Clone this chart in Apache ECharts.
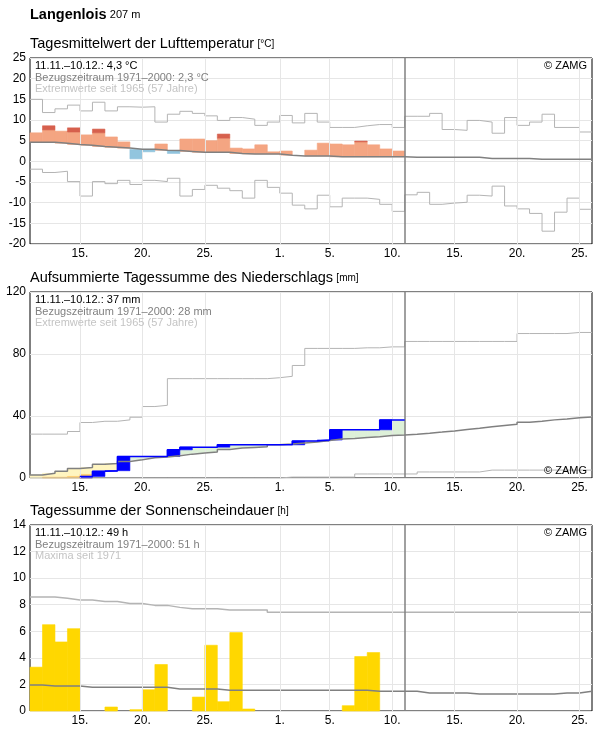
<!DOCTYPE html>
<html>
<head>
<meta charset="utf-8">
<script src="https://cdn.jsdelivr.net/npm/echarts@6/dist/echarts.min.js"></script>
<style>
html, body { margin: 0; padding: 0; background: #fff; }
#chart { width: 596px; height: 729px; }
</style>
</head>
<body>
<div id="chart"></div>
<script>
// Tage ab 11.11. (Index 0) bis 25.12. (Index 44)
var DAYS = 45;
var NOW = 30; // Ende 10.12.
var tickDays = [4, 9, 14, 20, 24, 29, 34, 39, 44];
var tickLabels = ['15.', '20.', '25.', '1.', '5.', '10.', '15.', '20.', '25.'];

// Lufttemperatur [°C]
var tempMax = [15.0, 11.8, 12.7, 13.6, 12.2, 14.3, 12.2, 13.2, 13.1, 13.2, 9.5, 11.4, 12.1, 11.6, 11.0,
  9.9, 10.6, 10.2, 8.7, 9.5, 11.1, 9.3, 11.6, 9.5, 8.2, 8.2, 8.6, 8.9, 8.9, 8.2,
  10.9, 10.9, 11.6, 7.7, 7.5, 9.9, 9.5, 6.8, 10.6, 8.7, 9.5, 11.4, 8.2, 8.2, 7.1];
var tempMin = [-1.9, -2.7, -2.4, -4.9, -8.4, -4.9, -5.4, -4.6, -5.6, -4.6, -4.9, -4.1, -8.4, -6.8, -5.8,
  -6.5, -7.1, -8.9, -4.6, -6.3, -7.7, -10.6, -11.5, -8.2, -11.0, -8.9, -8.9, -9.2, -10.4, -12.1,
  -8.1, -7.5, -10.4, -10.1, -9.9, -8.2, -8.4, -6.0, -10.8, -11.5, -12.6, -16.9, -12.3, -8.9, -11.6];
var tempClim = [4.6, 4.6, 4.4, 4.1, 3.9, 3.6, 3.4, 3.2, 2.9, 2.9, 2.7, 2.6, 2.4, 2.2, 2.2,
  2.2, 1.9, 1.8, 1.8, 1.8, 1.5, 1.3, 1.3, 1.3, 1.1, 1.1, 1.1, 1.1, 1.1, 1.1,
  1.0, 1.0, 1.0, 1.0, 1.0, 1.0, 0.7, 0.7, 0.7, 0.7, 0.5, 0.5, 0.5, 0.5, 0.5];
var tempDay = [6.9, 7.6, 7.3, 7.1, 6.4, 6.9, 5.9, 4.7, 0.6, 2.3, 4.2, 1.9, 5.4, 5.4, 5.0,
  5.6, 3.2, 3.0, 4.0, 2.3, 2.5, 1.3, 2.7, 4.4, 4.2, 4.0, 4.7, 4.0, 3.0, 2.5];
var tempCap = [null, 8.6, null, 8.1, null, 7.8, null, null, null, null, null, null, null, null, null,
  6.6, null, null, null, null, null, null, null, null, null, null, 4.9, null, null, null];

// Niederschlag, aufsummiert [mm]
var precMax = [28.3, 28.3, 28.3, 30.0, 35.8, 36.6, 36.6, 37.5, 39.2, 46.1, 46.9, 64.1, 64.1, 64.1, 64.1,
  64.1, 64.1, 64.1, 64.1, 64.7, 65.6, 72.6, 83.6, 83.6, 83.6, 83.6, 84.0, 84.0, 84.6, 84.6,
  88.1, 88.1, 88.1, 88.1, 88.1, 88.1, 88.1, 88.1, 88.1, 93.2, 93.2, 93.2, 93.2, 93.9, 93.9];
var precMin = [0, 0, 0, 0, 0, 0, 0, 0, 0, 0, 0, 0, 0, 0, 0,
  0, 0, 0, 0, 0, 0.6, 0.6, 0.6, 0.6, 0.6, 0.6, 2.6, 2.6, 2.6, 2.6,
  2.6, 3.9, 3.9, 3.9, 3.9, 3.9, 5.1, 5.1, 5.1, 5.1, 5.1, 5.1, 5.1, 5.1, 5.1];
var precClim = [1.9, 3.0, 4.3, 6.2, 6.8, 8.8, 9.4, 10.7, 11.8, 13.0, 13.5, 14.3, 15.4, 16.2, 16.7,
  18.4, 19.3, 19.7, 20.1, 21.5, 21.9, 22.6, 23.2, 24.2, 25.1, 25.5, 26.1, 26.6, 27.4, 27.8,
  28.3, 28.9, 29.6, 30.4, 31.3, 32.1, 33.0, 33.9, 34.7, 36.0, 36.6, 37.5, 38.1, 38.8, 39.4];
var precSum = [0, 0, 0, 0, 1.0, 4.3, 4.7, 13.9, 13.9, 13.9, 13.9, 18.2, 19.9, 19.9, 19.9,
  21.5, 21.5, 21.5, 21.5, 21.5, 21.4, 23.8, 23.8, 24.5, 31.1, 31.1, 31.1, 31.1, 37.5, 37.5];
var precLow = [0, 0.5, 0.5, 1.0, 2.3];

// Sonnenscheindauer [h]
var sunMax = [8.58, 8.58, 8.48, 8.35, 8.35, 8.25, 8.25, 8.1, 8.1, 7.95, 7.95, 7.8, 7.7, 7.7, 7.7,
  7.6, 7.6, 7.6, 7.6, 7.43, 7.43, 7.43, 7.43, 7.43, 7.43, 7.43, 7.43, 7.43, 7.43, 7.43,
  7.43, 7.43, 7.43, 7.43, 7.43, 7.43, 7.43, 7.43, 7.43, 7.43, 7.43, 7.43, 7.43, 7.43, 7.43];
var sunClim = [1.96, 1.88, 1.88, 1.88, 1.78, 1.78, 1.78, 1.78, 1.78, 1.78, 1.78, 1.66, 1.66, 1.66, 1.66,
  1.56, 1.56, 1.56, 1.56, 1.56, 1.56, 1.56, 1.56, 1.56, 1.56, 1.56, 1.56, 1.48, 1.48, 1.48,
  1.48, 1.35, 1.35, 1.35, 1.35, 1.28, 1.28, 1.28, 1.28, 1.28, 1.28, 1.28, 1.35, 1.35, 1.48];
var sunDay = [3.3, 6.5, 5.2, 6.2, 0, 0, 0.3, 0, 0.1, 1.6, 3.5, 0, 0, 1.05, 4.95,
  0.7, 5.9, 0.15, 0, 0, 0, 0, 0, 0, 0, 0.4, 4.1, 4.4, 0, 0];

var FONT = '"Liberation Sans", Arial, sans-serif';
var GRID_TOPS = [58, 292, 525];

var chart = echarts.init(document.getElementById('chart'));

function stepData(arr, from) {
  var d = [];
  for (var i = from || 0; i < arr.length; i++) d.push([i, arr[i]]);
  d.push([arr.length, arr[arr.length - 1]]);
  return d;
}

function stepLine(ax, data, color, width, z) {
  return {
    type: 'line', xAxisIndex: ax, yAxisIndex: ax, step: 'end', data: data,
    showSymbol: false, silent: true, z: z,
    lineStyle: { color: color, width: width }
  };
}

function rectRender(color) {
  return function (params, api) {
    var a = api.coord([api.value(0), api.value(2)]);
    var b = api.coord([api.value(0) + 1, api.value(1)]);
    return {
      type: 'rect',
      shape: { x: a[0], y: a[1], width: b[0] - a[0], height: b[1] - a[1] },
      style: { fill: color, stroke: color, lineWidth: 0.6 }
    };
  };
}

function rects(ax, data, color, z) {
  return {
    type: 'custom', xAxisIndex: ax, yAxisIndex: ax, data: data, z: z, silent: true,
    encode: { x: 0, y: [1, 2] }, renderItem: rectRender(color)
  };
}

function vLines(ax, days, color, width, z) {
  return {
    type: 'line', xAxisIndex: ax, yAxisIndex: ax, data: [], z: z, silent: true,
    markLine: {
      silent: true, symbol: ['none', 'none'], label: { show: false },
      lineStyle: { color: color, width: width, type: 'solid' },
      data: days.map(function (d) { return { xAxis: d }; })
    }
  };
}

// Balken: Abweichung vom Mittel
var warm = [], cold = [], caps = [];
tempDay.forEach(function (v, i) {
  if (v > tempClim[i]) warm.push([i, tempClim[i], v]);
  else if (v < tempClim[i]) cold.push([i, v, tempClim[i]]);
  if (tempCap[i] != null) caps.push([i, v, tempCap[i]]);
});

var wet = [], dry = [], daily = [], low = [];
var firstWet = -1;
precSum.forEach(function (v, i) {
  if (v > precClim[i]) wet.push([i, precClim[i], v]);
  else if (v < precClim[i]) dry.push([i, v, precClim[i]]);
  var prev = i > 0 ? precSum[i - 1] : 0;
  if (v > prev) daily.push([i, prev, v]);
  if (v > 0 && firstWet < 0) firstWet = i;
});
precLow.forEach(function (v, i) { if (v > 0) low.push([i, 0, v]); });

var sunBars = [];
sunDay.forEach(function (v, i) { if (v > 0) sunBars.push([i, 0, v]); });

function xAxisFor(idx) {
  return {
    type: 'value', gridIndex: idx, min: 0, max: DAYS, interval: 1,
    axisLine: { show: false }, axisTick: { show: false }, splitLine: { show: false },
    axisLabel: {
      color: '#000', fontSize: 12, fontFamily: FONT, margin: 4,
      formatter: function (v) {
        var k = tickDays.indexOf(v);
        return k < 0 ? '' : tickLabels[k];
      }
    }
  };
}

function yAxisFor(idx, min, max, interval) {
  return {
    type: 'value', gridIndex: idx, min: min, max: max, interval: interval,
    axisLine: { show: false }, axisTick: { show: false },
    splitLine: { lineStyle: { color: '#e6e6e6', width: 1 } },
    axisLabel: { color: '#000', fontSize: 12, fontFamily: FONT, margin: 4 }
  };
}

function panelTexts(top, title, unit, l1, l2, l3, zamgY) {
  return [
    { type: 'text', x: 30, y: top - 14, style: {
      text: '{t|' + title + '} {u|[' + unit + ']}', verticalAlign: 'middle',
      rich: { t: { fontSize: 14.5, fontFamily: FONT, fill: '#000' }, u: { fontSize: 10, fontFamily: FONT, fill: '#000' } }
    } },
    { type: 'text', x: 35, y: top + 8, z: 10, style: { text: l1, fontSize: 11, fontFamily: FONT, fill: '#000', verticalAlign: 'middle' } },
    { type: 'text', x: 35, y: top + 19.5, z: 10, style: { text: l2, fontSize: 11, fontFamily: FONT, fill: '#808080', verticalAlign: 'middle' } },
    { type: 'text', x: 35, y: top + 31, z: 10, style: { text: l3, fontSize: 11, fontFamily: FONT, fill: '#c4c4c4', verticalAlign: 'middle' } },
    { type: 'text', x: 587, y: zamgY, z: 10, style: { text: '© ZAMG', fontSize: 11, fontFamily: FONT, fill: '#000', align: 'right', verticalAlign: 'middle' } }
  ];
}

var graphics = [
  { type: 'text', x: 30, y: 15, style: {
    text: '{b|Langenlois} {s|207 m}', verticalAlign: 'middle',
    rich: { b: { fontSize: 14.5, fontWeight: 'bold', fontFamily: FONT, fill: '#000' }, s: { fontSize: 11, fontFamily: FONT, fill: '#000' } }
  } }
].concat(
  panelTexts(GRID_TOPS[0], 'Tagesmittelwert der Lufttemperatur', '°C',
    '11.11.–10.12.: 4,3 °C', 'Bezugszeitraum 1971–2000: 2,3 °C', 'Extremwerte seit 1965 (57 Jahre)', GRID_TOPS[0] + 8),
  panelTexts(GRID_TOPS[1], 'Aufsummierte Tagessumme des Niederschlags', 'mm',
    '11.11.–10.12.: 37 mm', 'Bezugszeitraum 1971–2000: 28 mm', 'Extremwerte seit 1965 (57 Jahre)', GRID_TOPS[1] + 179),
  panelTexts(GRID_TOPS[2], 'Tagessumme der Sonnenscheindauer', 'h',
    '11.11.–10.12.: 49 h', 'Bezugszeitraum 1971–2000: 51 h', 'Maxima seit 1971', GRID_TOPS[2] + 8)
);

var option = {
  animation: false,
  backgroundColor: '#fff',
  grid: GRID_TOPS.map(function (t) {
    return { left: 30, top: t, width: 562, height: 186, show: true, borderColor: '#000', borderWidth: 1, backgroundColor: 'transparent' };
  }),
  xAxis: [xAxisFor(0), xAxisFor(1), xAxisFor(2)],
  yAxis: [yAxisFor(0, -20, 25, 5), yAxisFor(1, 0, 120, 40), yAxisFor(2, 0, 14, 2)],
  graphic: graphics,
  series: [
    // Temperatur
    vLines(0, tickDays, '#e6e6e6', 1, 1),
    rects(0, warm, '#f4a582', 3),
    rects(0, cold, '#92c5de', 3),
    rects(0, caps, '#d6604d', 3),
    stepLine(0, stepData(tempMax), '#b4b4b4', 1, 4),
    stepLine(0, stepData(tempMin), '#b4b4b4', 1, 4),
    stepLine(0, stepData(tempClim), '#808080', 1.5, 5),
    vLines(0, [NOW], '#808080', 1.5, 6),
    // Niederschlag
    vLines(1, tickDays, '#e6e6e6', 1, 1),
    rects(1, wet, '#ddf0d8', 2),
    rects(1, dry, '#fff5c0', 2),
    rects(1, low, '#fdc766', 3),
    rects(1, daily, '#0000ff', 3),
    stepLine(1, stepData(precMax), '#b4b4b4', 1, 4),
    stepLine(1, stepData(precMin), '#b4b4b4', 1, 4),
    stepLine(1, stepData(precClim), '#808080', 1.5, 5),
    stepLine(1, stepData(precSum, firstWet), '#0000ff', 1.5, 5),
    vLines(1, [NOW], '#808080', 1.5, 6),
    // Sonnenschein
    vLines(2, tickDays, '#e6e6e6', 1, 1),
    rects(2, sunBars, '#ffd700', 3),
    stepLine(2, stepData(sunMax), '#b4b4b4', 1.5, 4),
    stepLine(2, stepData(sunClim), '#808080', 1.5, 4),
    vLines(2, [NOW], '#808080', 1.5, 6)
  ]
};

chart.setOption(option);
</script>
</body>
</html>
